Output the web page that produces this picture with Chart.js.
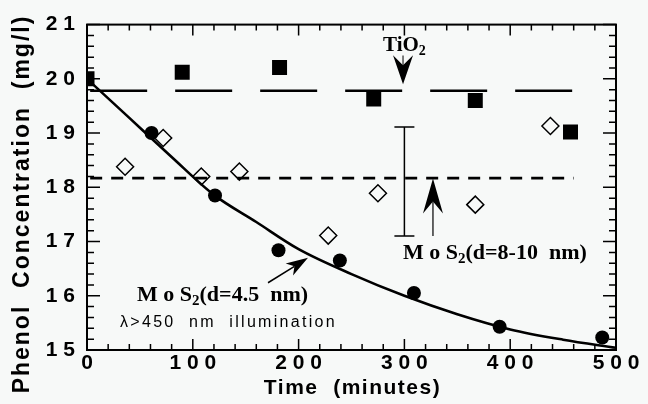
<!DOCTYPE html>
<html><head><meta charset="utf-8">
<script src="https://cdn.jsdelivr.net/npm/chart.js@4"></script>
<style>html,body{margin:0;padding:0;background:#f7f9f8}#wrap{width:648px;height:404px}</style>
</head><body><div id="wrap"><canvas id="c" width="648" height="404"></canvas></div>
<script>
// ---- data ----
const tio2X = [0, 90, 182, 271, 367, 457];
const tio2Y = [20.0, 20.12, 20.21, 19.63, 19.60, 19.02];
const mos2LargeX = [36, 72, 108, 144, 228, 275, 367, 438];
const mos2LargeY = [18.38, 18.91, 18.20, 18.29, 17.11, 17.89, 17.68, 19.13];
const mos2SmallX = [61, 121, 181, 239, 309, 390, 487];
const mos2SmallY = [19.00, 17.85, 16.84, 16.65, 16.05, 15.43, 15.23];
const fitX = [0, 40, 80, 120, 160, 200, 250, 300, 350, 400, 450, 500];
const fitY = [20.0, 19.28, 18.56, 17.86, 17.36, 16.86, 16.4, 16.0, 15.66, 15.38, 15.19, 15.04];
const levelX = [3, 460];
const tio2Level = [19.78, 19.78];
const mos2Level = [18.17, 18.17];
const errX = [300];
const errLow = [17.10];
const errHigh = [19.11];
const xTicks = [0, 100, 200, 300, 400, 500];
const xTickLabels = ['0', '1 0 0', '2 0 0', '3 0 0', '4 0 0', '5 0 0'];
const yTicks = [15, 16, 17, 18, 19, 20, 21];
const yTickLabels = ['1 5', '1 6', '1 7', '1 8', '1 9', '2 0', '2 1'];
const xTitle = 'Time  (minutes)';
const yTitle = 'Phenol  Concentration  (mg/l)';

const pts = (xs, ys) => xs.map((x, i) => ({x, y: ys[i]}));
const SANS = '"Liberation Sans", Arial, sans-serif';
const SERIF = '"Liberation Serif", "Times New Roman", serif';

function arrow(c, tx, ty, hx, hy, L, W, N, lw) {
  const dx = hx - tx, dy = hy - ty, len = Math.hypot(dx, dy);
  const ux = dx / len, uy = dy / len, nx = -uy, ny = ux;
  const bx = hx - L * ux, by = hy - L * uy;
  const kx = hx - (L - N) * ux, ky = hy - (L - N) * uy;
  c.beginPath(); c.lineWidth = lw; c.moveTo(tx, ty); c.lineTo(kx, ky); c.stroke();
  c.beginPath(); c.moveTo(hx, hy); c.lineTo(bx + W * nx, by + W * ny); c.lineTo(kx, ky);
  c.lineTo(bx - W * nx, by - W * ny); c.closePath(); c.fill();
}
function subText(c, x, y, parts) {
  let cx = x;
  parts.forEach(p => {
    c.font = p.font; c.letterSpacing = p.ls || '0px';
    c.fillText(p.t, cx, y + (p.dy || 0));
    cx += c.measureText(p.t).width;
  });
  c.letterSpacing = '0px';
}

const overlay = {
  id: 'overlay',
  beforeDraw(chart) {
    const c = chart.ctx; c.save(); c.fillStyle = '#f7f9f8'; c.fillRect(0, 0, chart.width, chart.height); c.restore();
  },
  afterDatasetsDraw(chart) {
    const c = chart.ctx, xs = chart.scales.x, ys = chart.scales.y;
    const X = v => xs.getPixelForValue(v), Y = v => ys.getPixelForValue(v);
    const a = chart.chartArea;
    c.save();
    c.strokeStyle = '#000'; c.fillStyle = '#000';
    c.lineWidth = 2; c.strokeRect(a.left, a.top, a.right - a.left, a.bottom - a.top);
    c.lineWidth = 1.5;
    for (let v = 0; v <= 500; v += 20) {
      const len = v % 100 === 0 ? 11 : 6, p = X(v);
      c.beginPath(); c.moveTo(p, a.bottom); c.lineTo(p, a.bottom - len);
      c.moveTo(p, a.top); c.lineTo(p, a.top + len); c.stroke();
    }
    for (let i = 0; i <= 30; i++) {
      const v = 15 + i * 0.2, len = i % 5 === 0 ? 13 : 7, p = Y(v);
      c.beginPath(); c.moveTo(a.left, p); c.lineTo(a.left + len, p);
      c.moveTo(a.right, p); c.lineTo(a.right - len, p); c.stroke();
    }
    c.lineWidth = 1.5;
    errX.forEach((ex, i) => {
      const px = X(ex), p1 = Y(errLow[i]), p2 = Y(errHigh[i]);
      c.beginPath(); c.moveTo(px, p1); c.lineTo(px, p2);
      c.moveTo(px - 10, p1); c.lineTo(px + 10, p1);
      c.moveTo(px - 10, p2); c.lineTo(px + 10, p2); c.stroke();
    });
    arrow(c, X(298.7), Y(20.43), X(298.7), Y(19.90), 29, 10, 10, 1);
    arrow(c, X(327), Y(17.10), X(327), Y(18.16), 35, 10, 12, 1.2);
    arrow(c, X(171.1), Y(16.24), X(208.9), Y(16.70), 22, 7, 6, 1.5);
    c.textBaseline = 'alphabetic'; c.textAlign = 'left';
    subText(c, X(279.8), Y(20.52), [
      {t: 'TiO', font: 'bold 21px ' + SERIF},
      {t: '2', font: 'bold 14px ' + SERIF, dy: 4}]);
    subText(c, X(298.7), Y(16.68), [
      {t: 'M o S', font: 'bold 22px ' + SERIF},
      {t: '2', font: 'bold 15px ' + SERIF, dy: 4},
      {t: '(d=8-10  nm)', font: 'bold 22px ' + SERIF}]);
    subText(c, X(47.3), Y(15.9), [
      {t: 'M o S', font: 'bold 22px ' + SERIF},
      {t: '2', font: 'bold 15px ' + SERIF, dy: 4},
      {t: '(d=4.5  nm)', font: 'bold 22px ' + SERIF}]);
    subText(c, X(31.2), Y(15.42), [
      {t: 'λ>450  nm  illumination', font: '16px ' + SANS, ls: '2.3px'}]);
    c.font = 'bold 21px ' + SANS; c.letterSpacing = '1.5px'; c.textAlign = 'center';
    c.fillText(xTitle, (a.left + a.right) / 2 + 1, 394);
    c.save(); c.translate(29, 204); c.rotate(-Math.PI / 2);
    c.font = 'bold 23px ' + SANS; c.letterSpacing = '2px';
    c.fillText(yTitle, 0, 0); c.restore();
    c.letterSpacing = '0px';
    c.restore();
  }
};

new Chart(document.getElementById('c'), {
  data: {
    datasets: [
      {type: 'scatter', data: pts(mos2SmallX, mos2SmallY), pointStyle: 'circle', pointRadius: 7,
       backgroundColor: '#000', borderColor: '#000', borderWidth: 0},
      {type: 'scatter', data: pts(tio2X, tio2Y), pointStyle: 'rect', pointRadius: 10.6,
       backgroundColor: '#000', borderColor: '#000', borderWidth: 0},
      {type: 'scatter', data: pts(mos2LargeX, mos2LargeY), pointStyle: 'rectRot', pointRadius: 8.5,
       backgroundColor: 'rgba(0,0,0,0)', borderColor: '#000', borderWidth: 1.5},
      {type: 'line', data: pts(fitX, fitY), borderColor: '#000', borderWidth: 2.6, pointRadius: 0,
       cubicInterpolationMode: 'monotone', fill: false},
      {type: 'line', data: pts(levelX, tio2Level), borderColor: '#000', borderWidth: 2.4, pointRadius: 0,
       borderDash: [57, 28], fill: false},
      {type: 'line', data: pts(levelX, mos2Level), borderColor: '#000', borderWidth: 2.6, pointRadius: 0,
       borderDash: [12, 9], fill: false}
    ]
  },
  options: {
    responsive: false, animation: false,
    layout: {padding: {left: 0, right: 32, top: 22, bottom: 0}},
    plugins: {legend: {display: false}, tooltip: {enabled: false}},
    scales: {
      x: {type: 'linear', min: 0, max: 500,
        afterFit(s) { s.height = 54; },
        afterBuildTicks(s) { s.ticks = xTicks.map(v => ({value: v})); },
        grid: {display: false, drawTicks: false}, border: {display: false},
        ticks: {padding: 1, color: '#000', maxRotation: 0, autoSkip: false,
          font: {family: SANS, weight: 'bold', size: 21},
          callback: v => xTickLabels[xTicks.indexOf(v)] ?? ''}},
      y: {type: 'linear', min: 15, max: 21,
        afterFit(s) { s.width = 87; },
        afterBuildTicks(s) { s.ticks = yTicks.map(v => ({value: v})); },
        grid: {display: false, drawTicks: false}, border: {display: false},
        ticks: {padding: 12, color: '#000', autoSkip: false,
          font: {family: SANS, weight: 'bold', size: 21},
          callback: v => yTickLabels[yTicks.indexOf(v)] ?? ''}}
    }
  },
  plugins: [overlay]
});
</script></body></html>
